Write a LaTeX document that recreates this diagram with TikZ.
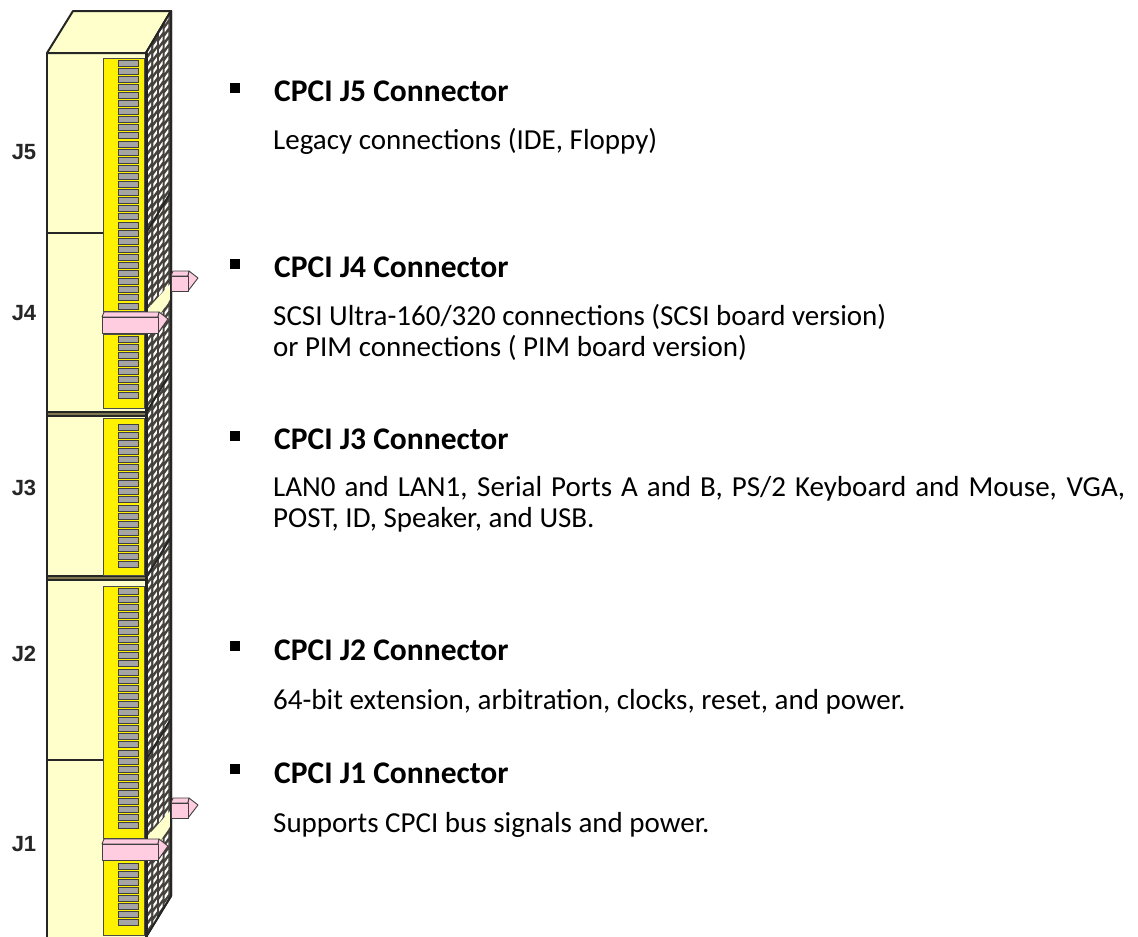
\documentclass[tikz,border=0pt]{standalone}
\usepackage{fontspec}
\setmainfont{Carlito}
\newfontfamily\labelfont{Liberation Sans}
\definecolor{cream}{RGB}{255,255,204}
\definecolor{pinkish}{RGB}{255,204,224}
\definecolor{slat}{RGB}{165,165,165}
\definecolor{mesh}{RGB}{70,66,60}
\definecolor{olive}{RGB}{125,120,80}
\tikzset{
  outline/.style={draw=black!85, line width=2pt, line join=round},
  conn/.style={draw=black!70, line width=0.9pt, fill=yellow},
  slatbox/.style={draw=black!75, line width=1pt, fill=slat},
  pinkface/.style={draw=black!75, line width=0.9pt, fill=pinkish, line join=round},
  jlabel/.style={font=\labelfont\bfseries\fontsize{22}{22}\selectfont, text=black!85, inner sep=0pt},
  head/.style={font=\bfseries\fontsize{31.5}{31.5}\selectfont, anchor=base west, inner sep=0pt},
  body/.style={font=\fontsize{29}{30.5}\selectfont, anchor=base west, inner sep=0pt, align=left}
}
% one connector block: top, bottom, first slat, last slat index
\newcommand{\connblock}[4]{
  \draw[conn] (103,#1) rectangle (144.5,#2);
  \foreach \n in {0,...,#4} {
    \draw[slatbox] (118,{#3+8.1*\n}) rectangle (138,{#3+8.1*\n+6});
  }
}
% pin: left x, top y, bottom y, body end
\newcommand{\pinshape}[4]{
  \draw[pinkface] (#1,#2+5) -- (#1+2,#2) -- (#4+1,#2) -- (#4,#2+5) -- cycle;
  \draw[pinkface] (#4,#2+5) -- (#4+1,#2) -- (#4+10,#2+7) -- (#4,#3) -- cycle;
  \draw[pinkface] (#1,#2+5) rectangle (#4,#3);
}
\begin{document}
\begin{tikzpicture}[x=1pt,y=-1pt]
  \useasboundingbox (0,0) rectangle (1138,937);
  % Card faces
  \path[fill=cream] (47,53) rectangle (146,937);
  \draw[outline, fill=cream] (47,53) -- (73,11) -- (171,11) -- (146,53) -- cycle;
  \draw[outline, fill=cream] (146,53) -- (171,11) -- (171,896) -- (146,937) -- cycle;

  % Mesh on the side
  \begin{scope}
    \clip (146,53) -- (171,11) -- (171,896) -- (146,937) -- cycle;
    \fill[mesh] (146,0) rectangle (171,937);
    \foreach \col in {0,1,2,3} {
      \foreach \row in {0,...,116} {
        \fill[white] ({147.6+\col*5.7},{10+\row*8.1+mod(\col,2)*4-\col*0.5})
          -- ++(3.6,-5) -- ++(0,3.6) -- ++(-3.6,5) -- cycle;
      }
    }
    \fill[cream] (146,311) -- (171,283) -- (171,298) -- (146,335) -- cycle;
    \fill[cream] (146,838) -- (171,810) -- (171,825) -- (146,862) -- cycle;
  \end{scope}
  \draw[outline] (146,53) -- (171,11) -- (171,896) -- (146,937);
  \draw[line width=3pt, draw=black!85] (146,53) -- (146,937);

  % Dividers
  \draw[outline] (47,53) -- (146,53);
  \draw[outline] (47,53) -- (47,937);
  \draw[outline] (47,233) -- (103,233);
  \draw[outline] (47,760) -- (103,760);
  \draw[draw=black!85, line width=1.4pt, fill=olive] (47,412) rectangle (146,416);
  \draw[draw=black!85, line width=1.4pt, fill=olive] (47,576) rectangle (146,580);
  \draw[outline] (146,233) -- (171,192);
  \draw[outline] (146,413) -- (171,372);
  \draw[outline] (146,578) -- (171,537);
  \draw[outline] (146,760) -- (171,719);

  % Connector blocks
  \connblock{58}{311}{60}{30}
  \connblock{334}{408}{336}{7}
  \connblock{418}{575}{424}{17}
  \connblock{586}{838}{588}{29}
  \connblock{860}{935}{863}{7}

  % Pins
  \pinshape{171}{271}{291}{188}
  \pinshape{102}{312}{333}{158}
  \pinshape{171}{798}{818}{188}
  \pinshape{102}{839}{860}{158}

  % Slot labels
  \node[jlabel] (j5) at (24,152) {J5};
  \node[jlabel] (j4) at (24,313) {J4};
  \node[jlabel] (j3) at (24,488) {J3};
  \node[jlabel] (j2) at (24,654) {J2};
  \node[jlabel] (j1) at (24,844) {J1};

  % Descriptions
  \fill[black] (230,83) rectangle (240,93);
  \node[head] (h5) at (274,101) {CPCI J5 Connector};
  \node[body] (t5) at (273,149) {Legacy connections (IDE, Floppy)};

  \fill[black] (230,259) rectangle (240,269);
  \node[head] (h4) at (274,277) {CPCI J4 Connector};
  \node[body] (t4) at (273,356) {SCSI Ultra-160/320 connections (SCSI board version)\\or PIM connections ( PIM board version)};

  \fill[black] (230,431) rectangle (240,441);
  \node[head] (h3) at (274,449) {CPCI J3 Connector};
  \node[body] (t3) at (273,527) {\hbox to 852pt{LAN0 and LAN1, Serial Ports A and B, PS/2 Keyboard and Mouse, VGA,}\\POST, ID, Speaker, and USB.};

  \fill[black] (230,641) rectangle (240,651);
  \node[head] (h2) at (274,660) {CPCI J2 Connector};
  \node[body] (t2) at (273,709) {64-bit extension, arbitration, clocks, reset, and power.};

  \fill[black] (230,764) rectangle (240,774);
  \node[head] (h1) at (274,783) {CPCI J1 Connector};
  \node[body] (t1) at (273,832) {Supports CPCI bus signals and power.};
\end{tikzpicture}
\end{document}
